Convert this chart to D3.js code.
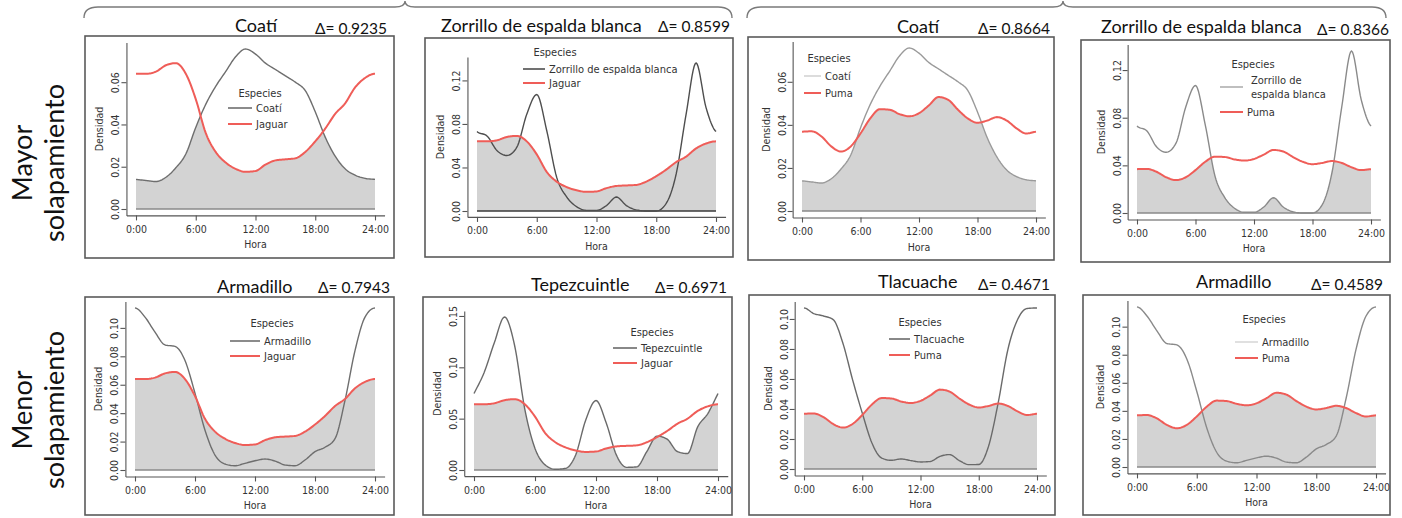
<!DOCTYPE html>
<html>
<head>
<meta charset="utf-8">
<script src="https://cdn.jsdelivr.net/npm/d3@7"></script>
<style>
  html, body { margin: 0; padding: 0; background: #fff; }
  svg { display: block; }
  .plot-text { font-family: "Liberation Sans Narrow", "DejaVu Sans Condensed", "Roboto Condensed", Lato, sans-serif; }
  .big-text { font-family: Lato, "Open Sans", sans-serif; font-weight: 400; }
</style>
</head>
<body>
<svg id="chart" width="1402" height="518"></svg>
<script>
// Hours of the day at which each activity density is read
const hours = [0, 1, 2, 3, 4, 5, 6, 7, 8, 9, 10, 11, 12, 13, 14, 15, 16, 17, 18, 19, 20, 21, 22, 23, 24];
const hourTicks = [0, 6, 12, 18, 24];
const hourLabels = ["0:00", "6:00", "12:00", "18:00", "24:00"];

// Predators
const jaguar = [0.064, 0.064, 0.065, 0.068, 0.069, 0.064, 0.052, 0.036, 0.027, 0.022, 0.019, 0.0176, 0.018,
                0.021, 0.023, 0.0235, 0.024, 0.027, 0.032, 0.038, 0.045, 0.050, 0.0575, 0.062, 0.064];
const puma = [0.0368, 0.037, 0.0346, 0.030, 0.0276, 0.030, 0.036, 0.043, 0.0473, 0.047, 0.045, 0.044, 0.0454,
              0.049, 0.0529, 0.0516, 0.047, 0.043, 0.041, 0.042, 0.0436, 0.042, 0.0384, 0.036, 0.0368];

// Prey
const coati = [0.014, 0.0135, 0.013, 0.015, 0.0195, 0.026, 0.0386, 0.0495, 0.058, 0.065, 0.072, 0.0757, 0.0733,
               0.069, 0.066, 0.063, 0.060, 0.056, 0.046, 0.034, 0.025, 0.019, 0.016, 0.0145, 0.014];
const zorrillo = [0.073, 0.069, 0.0556, 0.051, 0.0586, 0.089, 0.107, 0.074, 0.031, 0.013, 0.004, 0.0006, 0.0006,
                  0.005, 0.0128, 0.005, 0.001, 0, 0, 0.007, 0.034, 0.089, 0.136, 0.095, 0.073];
const armadillo = [0.114, 0.1076, 0.097, 0.088, 0.087, 0.077, 0.054, 0.028, 0.0105, 0.0042, 0.003, 0.0047, 0.0065,
                   0.0077, 0.0063, 0.0035, 0.003, 0.007, 0.0129, 0.016, 0.022, 0.049, 0.084, 0.1076, 0.114];
const tepezcuintle = [0.0745, 0.095, 0.124, 0.149, 0.121, 0.059, 0.021, 0.005, 0.0007, 0.0016, 0.0147, 0.049, 0.0676,
                      0.046, 0.0147, 0.0026, 0.003, 0.018, 0.033, 0.030, 0.018, 0.016, 0.042, 0.055, 0.0745];
const tlacuache = [0.1073, 0.1036, 0.102, 0.0996, 0.084, 0.0596, 0.0373, 0.0173, 0.0073, 0.0058, 0.0067, 0.0056, 0.0047,
                   0.005, 0.0084, 0.0096, 0.0056, 0.0029, 0.003, 0.015, 0.044, 0.0796, 0.0996, 0.107, 0.1073];

// Overlap coefficients
const deltas = [0.9235, 0.8599, 0.8664, 0.8366, 0.7943, 0.6971, 0.4671, 0.4589];

// Density tick values
const ticks06 = [0, 0.02, 0.04, 0.06];
const ticks12 = [0, 0.04, 0.08, 0.12];
const ticks10 = [0, 0.02, 0.04, 0.06, 0.08, 0.10];
const ticks15 = [0, 0.05, 0.10, 0.15];

const rowLabels = [["Mayor", "solapamiento"], ["Menor", "solapamiento"]];

// Panels: data pairing plus placement on the page
const panels = [
  { prey: "Coatí", preyVals: coati, pred: "Jaguar", predVals: jaguar, delta: deltas[0], ticks: ticks06, fill: "min",
    box: [85, 36, 394, 258], x0: 136, x24: 375, yBase: 209, yTop: 49,
    title: [235, 32], deltaPos: [315, 34], preyColor: "#6e6e6e", legendPreyColor: "#6e6e6e", baseColor: "#8a8a8a",
    legend: { cx: 260, y: 93, lx: 228, lw: 24, rows: [108, 124] } },
  { prey: "Zorrillo de espalda blanca", preyVals: zorrillo, pred: "Jaguar", predVals: jaguar, delta: deltas[1], ticks: ticks12, fill: "pred",
    box: [425, 38, 733, 257], x0: 477, x24: 716, yBase: 211, yTop: 63,
    title: [441, 32], deltaPos: [658, 32], preyColor: "#4e4e4e", legendPreyColor: "#4e4e4e", baseColor: "#3a3a3a",
    legend: { cx: 555, y: 52, lx: 523, lw: 22, rows: [69, 83] } },
  { prey: "Coatí", preyVals: coati, pred: "Puma", predVals: puma, delta: deltas[2], ticks: ticks06, fill: "min",
    box: [748, 37, 1054, 260], x0: 802, x24: 1036, yBase: 211, yTop: 48,
    title: [897, 33], deltaPos: [978, 34], preyColor: "#9a9a9a", legendPreyColor: "#d4d4d4", baseColor: "#8a8a8a",
    legend: { cx: 829, y: 58, lx: 804, lw: 17, rows: [76, 93] } },
  { prey: "Zorrillo de espalda blanca", preyVals: zorrillo, pred: "Puma", predVals: puma, delta: deltas[3], ticks: ticks12, fill: "min",
    box: [1081, 40, 1390, 262], x0: 1137, x24: 1371, yBase: 213, yTop: 51,
    title: [1101, 33], deltaPos: [1317, 35], preyColor: "#8a8a8a", legendPreyColor: "#b0b0b0", baseColor: "#8a8a8a",
    legend: { cx: 1253, y: 64, lx: 1220, lw: 23, rows: [87, 112], wrap: ["Zorrillo de", "espalda blanca"] } },
  { prey: "Armadillo", preyVals: armadillo, pred: "Jaguar", predVals: jaguar, delta: deltas[4], ticks: ticks10, fill: "pred",
    box: [85, 297, 394, 515], x0: 135, x24: 375, yBase: 470, yTop: 308,
    title: [217, 293], deltaPos: [318, 293], preyColor: "#6e6e6e", legendPreyColor: "#6e6e6e", baseColor: "#8a8a8a",
    legend: { cx: 272, y: 323, lx: 230, lw: 30, rows: [341, 356] } },
  { prey: "Tepezcuintle", preyVals: tepezcuintle, pred: "Jaguar", predVals: jaguar, delta: deltas[5], ticks: ticks15, fill: "min",
    box: [423, 297, 732, 515], x0: 474, x24: 718, yBase: 470, yTop: 317,
    title: [531, 291], deltaPos: [655, 293], preyColor: "#6a6a6a", legendPreyColor: "#6a6a6a", baseColor: "#8a8a8a",
    legend: { cx: 652, y: 332, lx: 613, lw: 24, rows: [348, 363] } },
  { prey: "Tlacuache", preyVals: tlacuache, pred: "Puma", predVals: puma, delta: deltas[6], ticks: ticks10, fill: "pred",
    box: [749, 295, 1055, 515], x0: 804, x24: 1037, yBase: 469, yTop: 308,
    title: [878, 288], deltaPos: [978, 290], preyColor: "#6a6a6a", legendPreyColor: "#6a6a6a", baseColor: "#8a8a8a",
    legend: { cx: 920, y: 322, lx: 889, lw: 21, rows: [339, 355] } },
  { prey: "Armadillo", preyVals: armadillo, pred: "Puma", predVals: puma, delta: deltas[7], ticks: ticks10, fill: "pred",
    box: [1083, 295, 1390, 515], x0: 1137, x24: 1376, yBase: 467, yTop: 307,
    title: [1196, 288], deltaPos: [1311, 290], preyColor: "#8a8a8a", legendPreyColor: "#d8d8d8", baseColor: "#8a8a8a",
    legend: { cx: 1264, y: 319, lx: 1235, lw: 23, rows: [342, 358] } }
];

// Smooth periodic monotone (Steffen) interpolation of an hourly series
function smoothSeries(xs, ys, step) {
  const n = xs.length;
  const s = [];
  for (let i = 0; i < n - 1; i++) s.push((ys[i + 1] - ys[i]) / (xs[i + 1] - xs[i]));
  const m = ys.map((_, i) => {
    const s0 = i === 0 ? s[n - 2] : s[i - 1];
    const s1 = i === n - 1 ? s[0] : s[i];
    const p = (s0 + s1) / 2;
    return ((Math.sign(s0) + Math.sign(s1)) * Math.min(Math.abs(s0), Math.abs(s1), 0.5 * Math.abs(p))) || 0;
  });
  const out = [];
  for (let i = 0; i < n - 1; i++) {
    const h = xs[i + 1] - xs[i];
    const k = Math.round(h / step);
    for (let j = 0; j < k; j++) {
      const t = j / k, t2 = t * t, t3 = t2 * t;
      const v = (2 * t3 - 3 * t2 + 1) * ys[i] + (t3 - 2 * t2 + t) * h * m[i]
              + (-2 * t3 + 3 * t2) * ys[i + 1] + (t3 - t2) * h * m[i + 1];
      out.push([xs[i] + t * h, Math.max(0, v)]);
    }
  }
  out.push([xs[n - 1], ys[n - 1]]);
  return out;
}

const svg = d3.select("#chart");

// Curly braces grouping the predator columns
function bracePath(x1, x2, c) {
  return `M${x1},18 Q${x1},7 ${x1 + 14},7 L${c - 10},7 Q${c},7 ${c},1 Q${c},7 ${c + 10},7 L${x2 - 14},7 Q${x2},7 ${x2},18`;
}
svg.append("path").attr("d", bracePath(84, 732, 405)).attr("fill", "none").attr("stroke", "#7a7a7a").attr("stroke-width", 1.4);
svg.append("path").attr("d", bracePath(747, 1386, 1063)).attr("fill", "none").attr("stroke", "#7a7a7a").attr("stroke-width", 1.4);

// Row labels
const rowCenters = [163, 410];
rowLabels.forEach((lines, r) => {
  [32, 64].forEach((bx, k) => {
    svg.append("text").attr("class", "big-text")
      .attr("transform", `translate(${bx},${rowCenters[r]}) rotate(-90)`)
      .attr("text-anchor", "middle")
      .attr("font-size", 27).attr("fill", "#111")
      .text(lines[k]);
  });
});

panels.forEach(P => {
  const g = svg.append("g");
  const [bx1, by1, bx2, by2] = P.box;
  g.append("rect").attr("x", bx1).attr("y", by1).attr("width", bx2 - bx1).attr("height", by2 - by1)
    .attr("fill", "#fff").attr("stroke", "#5a5a5a").attr("stroke-width", 1.6);

  g.append("text").attr("class", "big-text").attr("x", P.title[0]).attr("y", P.title[1])
    .attr("font-size", 18).attr("fill", "#111").text(P.prey);
  g.append("text").attr("class", "big-text").attr("x", P.deltaPos[0]).attr("y", P.deltaPos[1])
    .attr("font-size", 15.5).attr("fill", "#111").text("Δ= " + P.delta.toFixed(4));

  const w = P.x24 - P.x0;
  const x = d3.scaleLinear().domain([-0.96, 24.96]).range([P.x0 - 0.04 * w, P.x24 + 0.04 * w]);
  const ymax = d3.max(P.preyVals.concat(P.predVals));
  const h = P.yBase - P.yTop;
  const y = d3.scaleLinear().domain([-0.04 * ymax, 1.04 * ymax]).range([P.yBase + 0.04 * h, P.yTop - 0.04 * h]);

  const preyS = smoothSeries(hours, P.preyVals, 0.1);
  const predS = smoothSeries(hours, P.predVals, 0.1);
  const fillS = predS.map((d, i) => [d[0], P.fill === "min" ? Math.min(d[1], preyS[i][1]) : d[1]]);

  g.append("path").datum(fillS)
    .attr("d", d3.area().x(d => x(d[0])).y0(y(0)).y1(d => y(d[1])))
    .attr("fill", "#d3d3d3");
  g.append("line").attr("x1", x(0)).attr("x2", x(24)).attr("y1", y(0)).attr("y2", y(0))
    .attr("stroke", P.baseColor).attr("stroke-width", 1.6);

  const line = d3.line().x(d => x(d[0])).y(d => y(d[1]));
  g.append("path").datum(preyS).attr("d", line).attr("fill", "none")
    .attr("stroke", P.preyColor).attr("stroke-width", 1.4);
  g.append("path").datum(predS).attr("d", line).attr("fill", "none")
    .attr("stroke", "#ef5d58").attr("stroke-width", 2);

  // Axes (L-shaped frame)
  const xAxis = g.append("g").attr("class", "plot-text")
    .attr("transform", `translate(0,${y.range()[0]})`)
    .call(d3.axisBottom(x).tickValues(hourTicks).tickFormat((d, i) => hourLabels[i]).tickSize(5).tickSizeOuter(0));
  xAxis.selectAll("text").attr("y", 10).attr("font-size", 10.5).attr("fill", "#333")
    .attr("font-family", null);
  const yAxis = g.append("g").attr("class", "plot-text")
    .attr("transform", `translate(${x.range()[0]},0)`)
    .call(d3.axisLeft(y).tickValues(P.ticks).tickFormat(d3.format(".2f")).tickSize(5).tickSizeOuter(0));
  yAxis.selectAll("text").attr("x", 0).attr("y", -7).attr("dy", 0)
    .attr("text-anchor", "middle").attr("transform", "rotate(-90)")
    .attr("font-size", 10.5).attr("fill", "#333").attr("font-family", null);
  [xAxis, yAxis].forEach(a => {
    a.attr("font-family", null);
    a.selectAll("path, line").attr("stroke", "#555").attr("stroke-width", 1.1);
  });

  const plotMidY = (y.range()[0] + y.range()[1]) / 2;
  g.append("text").attr("class", "plot-text")
    .attr("transform", `translate(${x.range()[0] - 23},${plotMidY}) rotate(-90)`)
    .attr("text-anchor", "middle").attr("font-size", 10.5).attr("fill", "#333").text("Densidad");
  g.append("text").attr("class", "plot-text")
    .attr("x", (x.range()[0] + x.range()[1]) / 2).attr("y", y.range()[0] + 33)
    .attr("text-anchor", "middle").attr("font-size", 10.5).attr("fill", "#333").text("Hora");

  // Legend
  const L = P.legend;
  g.append("text").attr("class", "plot-text").attr("x", L.cx).attr("y", L.y)
    .attr("dominant-baseline", "central").attr("text-anchor", "middle")
    .attr("font-size", 11).attr("fill", "#333").text("Especies");
  const entries = [
    { name: P.prey, color: P.legendPreyColor, width: 1.6, wrap: L.wrap },
    { name: P.pred, color: "#ef5d58", width: 2 }
  ];
  entries.forEach((e, i) => {
    const ry = L.rows[i];
    g.append("line").attr("x1", L.lx).attr("x2", L.lx + L.lw).attr("y1", ry).attr("y2", ry)
      .attr("stroke", e.color).attr("stroke-width", e.width);
    const t = g.append("text").attr("class", "plot-text").attr("x", L.lx + L.lw + 4)
      .attr("font-size", 11).attr("fill", "#333");
    if (e.wrap) {
      e.wrap.forEach((part, k) => {
        t.append("tspan").attr("x", L.lx + L.lw + 8).attr("y", ry + (k - 0.5) * 14)
          .attr("dominant-baseline", "central").text(part);
      });
    } else {
      t.attr("y", ry).attr("dominant-baseline", "central").text(e.name);
    }
  });
});
</script>
</body>
</html>
